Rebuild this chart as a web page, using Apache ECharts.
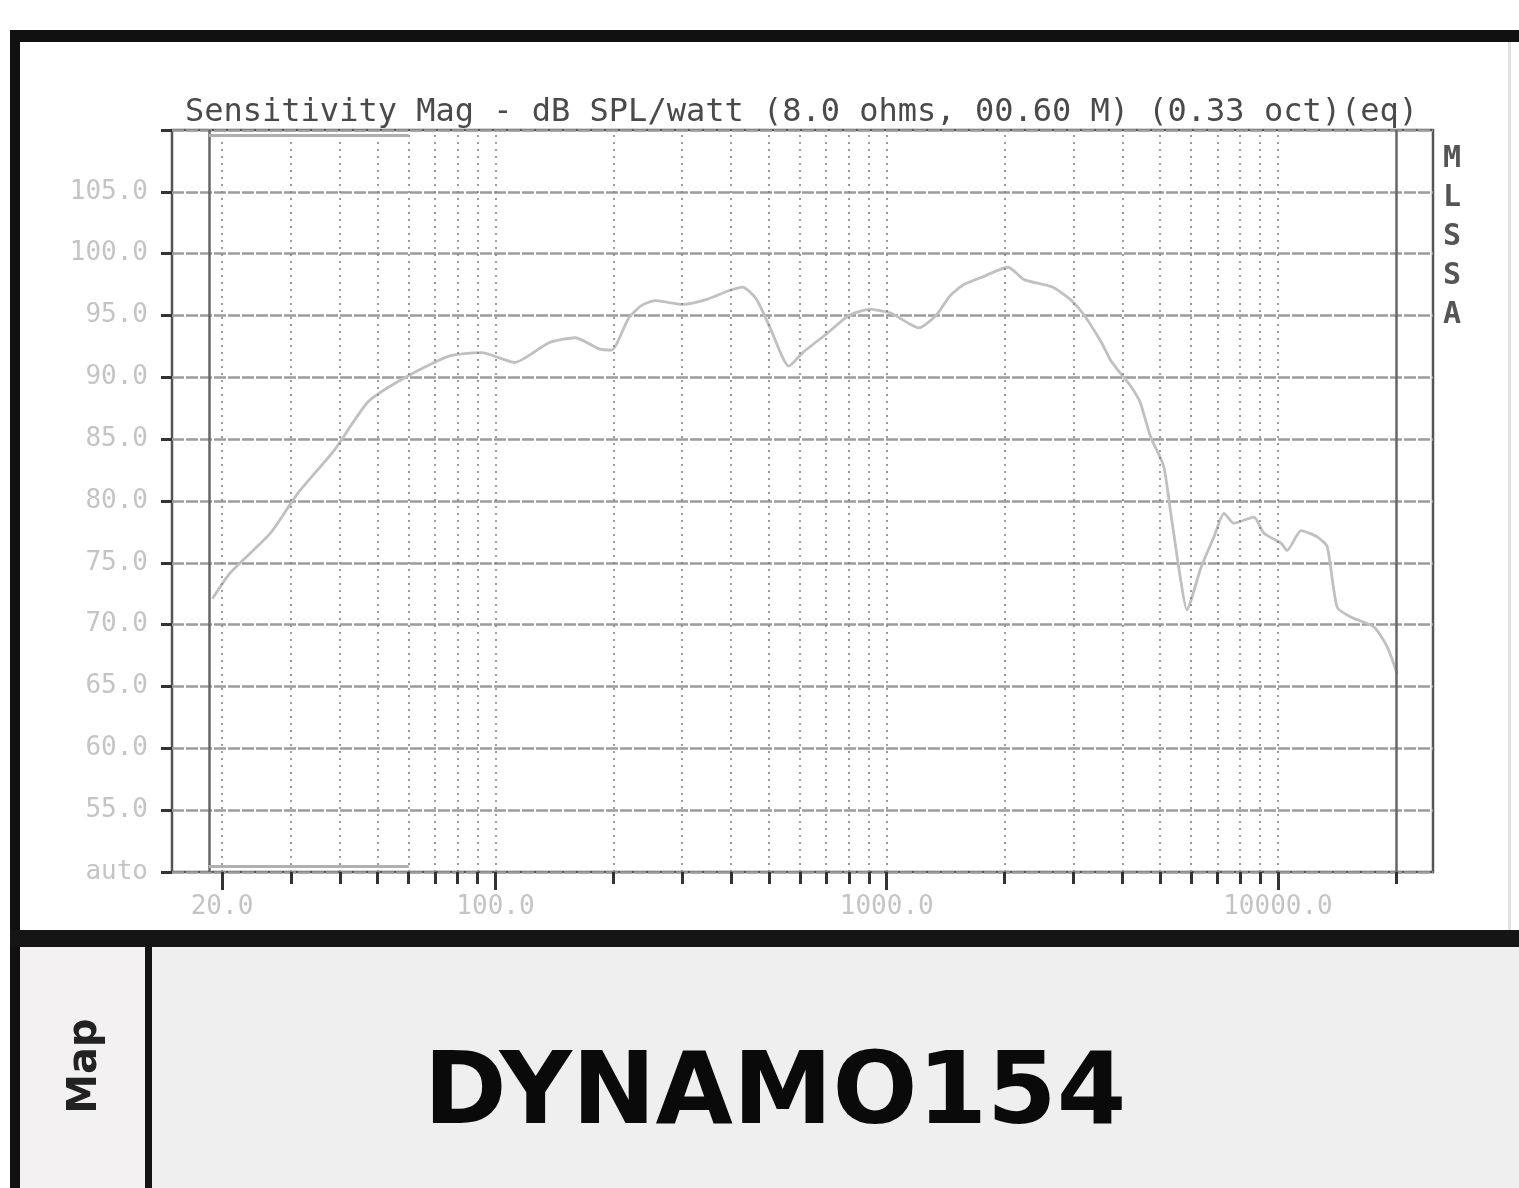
<!DOCTYPE html>
<html>
<head>
<meta charset="utf-8">
<title>Sensitivity Mag - DYNAMO154</title>
<script src="https://cdn.jsdelivr.net/npm/echarts@6.0.0/dist/echarts.min.js"></script>
<style>
  html, body { margin: 0; padding: 0; background: #fff; }
  #chart { width: 1519px; height: 1188px; }
</style>
</head>
<body>
<div id="chart"></div>
<script>
// frequency response (Hz / dB SPL per watt)
var freqHz = [18.9, 21, 26.6, 31.2, 38.7, 47.2, 57.4, 75.7, 92.1, 112, 137, 160, 184, 198, 219,
  236, 256, 302, 347, 394, 428, 465, 505, 562, 610, 707, 800, 904, 1023, 1132, 1208, 1336,
  1452, 1575, 1752, 2043, 2245, 2650, 2946, 3200, 3540, 3730, 3940, 4200, 4440, 4725, 5103,
  5321, 5641, 5847, 6353, 6861, 7278, 7716, 8676, 9205, 10180, 10548, 11460, 12600, 13360,
  14170, 15400, 17620, 19020, 20180];
var splDb = [72.1, 74.2, 77.4, 80.6, 84.1, 88.0, 89.8, 91.7, 92.0, 91.2, 92.8, 93.2, 92.3, 92.2, 94.8,
  95.8, 96.2, 95.9, 96.3, 97.0, 97.3, 96.3, 93.9, 90.9, 92.0, 93.6, 95.0, 95.5, 95.2, 94.4, 94.0, 95.0,
  96.6, 97.5, 98.1, 98.9, 97.9, 97.3, 96.3, 95.0, 92.8, 91.4, 90.4, 89.3, 88.0, 85.2, 82.8,
  79.0, 73.6, 71.2, 74.6, 77.1, 79.0, 78.2, 78.7, 77.4, 76.6, 76.0, 77.6, 77.1, 76.3,
  71.4, 70.6, 69.8, 68.2, 66.0];

// dotted frequency grid + axis ticks
var gridFreqs = [20, 30, 40, 50, 60, 70, 80, 90, 100, 200, 300, 400, 500, 600, 700, 800, 900,
  1000, 2000, 3000, 4000, 5000, 6000, 7000, 8000, 9000, 10000];
var edgeFreqs = [18.5, 20000];
var labelFreqs = [20, 100, 1000, 10000];
// short grey cursor bars at top and bottom left of the plot
var cursorFreqs = [18.5, 60];
var cursorDb = [109.6, 50.5];

var xMin = 14.9, xMax = 24900;
var yMin = 50, yMax = 110, yStep = 5;

var title = 'Sensitivity Mag - dB SPL/watt (8.0 ohms, 00.60 M) (0.33 oct)(eq)';
var mono = '"DejaVu Sans Mono", "Liberation Mono", monospace';

var chart = echarts.init(document.getElementById('chart'), null, { renderer: 'canvas' });

var points = freqHz.map(function (f, i) { return [f, splDb[i]]; });

var vLines = gridFreqs.map(function (f) {
  return { xAxis: f, lineStyle: { color: '#7c7c7c', width: 1.5, type: [2, 5] } };
}).concat(edgeFreqs.map(function (f) {
  return { xAxis: f, lineStyle: { color: '#666', width: 2.5, type: 'solid' } };
}));
cursorDb.forEach(function (db) {
  vLines.push([
    { coord: [cursorFreqs[0], db], lineStyle: { color: '#b0b0b0', width: 3, type: 'solid' } },
    { coord: [cursorFreqs[1], db] }
  ]);
});

var option = {
  backgroundColor: '#fff',
  animation: false,
  title: {
    text: title,
    left: 180,
    top: 92,
    textStyle: { fontFamily: mono, fontSize: 32, fontWeight: 'normal', color: '#4a4a4a' }
  },
  grid: {
    left: 172, top: 130, width: 1261, height: 742,
    show: true, borderColor: '#555', borderWidth: 2.5,
    containLabel: false, outerBoundsMode: 'none'
  },
  xAxis: [{
    type: 'log', logBase: 10, min: xMin, max: xMax,
    position: 'bottom',
    axisLine: { show: false },
    splitLine: { show: false },
    axisTick: { show: true, customValues: gridFreqs.concat([20000]), length: 12,
      lineStyle: { color: '#333', width: 3 } },
    axisLabel: { show: false }
  }, {
    type: 'log', logBase: 10, min: xMin, max: xMax,
    position: 'bottom',
    axisLine: { show: false },
    splitLine: { show: false },
    axisTick: { show: true, customValues: labelFreqs, length: 18,
      lineStyle: { color: '#333', width: 3 } },
    axisLabel: {
      show: true, customValues: labelFreqs, margin: 22,
      fontFamily: mono, fontSize: 26, color: '#c4c4c4',
      formatter: function (v) { return Number(v).toFixed(1); }
    }
  }],
  yAxis: {
    type: 'value', min: yMin, max: yMax, interval: yStep,
    axisLine: { show: false },
    axisTick: { show: true, length: 11, lineStyle: { color: '#333', width: 3 } },
    axisLabel: {
      margin: 24, fontFamily: mono, fontSize: 26, color: '#c4c4c4',
      formatter: function (v) {
        if (v === yMin) return 'auto';
        if (v === yMax) return '';
        return v.toFixed(1);
      }
    },
    splitLine: { show: true, lineStyle: { color: '#9c9c9c', width: 2.5, type: [12, 2] } }
  },
  series: [{
    type: 'line',
    xAxisIndex: 0,
    data: [],
    z: 1,
    markLine: {
      silent: true, symbol: ['none', 'none'], label: { show: false },
      data: vLines
    }
  }, {
    name: 'Sensitivity',
    type: 'line',
    xAxisIndex: 0,
    data: points,
    z: 3,
    smooth: 0.2,
    showSymbol: false,
    lineStyle: { color: '#c0c0c0', width: 2.8 }
  }],
  graphic: [
    // scanned frame around the plot
    { type: 'rect', shape: { x: 10, y: 30, width: 1509, height: 12 }, style: { fill: '#111' } },
    { type: 'rect', shape: { x: 10, y: 30, width: 10, height: 1158 }, style: { fill: '#111' } },
    { type: 'rect', shape: { x: 1508, y: 42, width: 3, height: 888 }, style: { fill: '#e2e2e2' } },
    { type: 'rect', shape: { x: 20, y: 947, width: 1499, height: 241 }, style: { fill: '#efefef' } },
    { type: 'rect', shape: { x: 20, y: 947, width: 125, height: 241 }, style: { fill: '#f4f1f3' } },
    { type: 'rect', shape: { x: 10, y: 930, width: 1509, height: 17 }, style: { fill: '#151515' } },
    { type: 'rect', shape: { x: 145, y: 947, width: 7, height: 241 }, style: { fill: '#151515' } },
    {
      type: 'text', x: 1452, y: 140,
      style: { text: 'M\nL\nS\nS\nA', font: 'bold 30px ' + mono, fill: '#555',
        align: 'center', lineHeight: 39 }
    },
    {
      type: 'text', x: 86, y: 1066, rotation: Math.PI / 2,
      style: { text: 'Map', font: 'bold 40px "DejaVu Sans", sans-serif', fill: '#222',
        align: 'center', verticalAlign: 'middle' }
    },
    {
      type: 'text', x: 775, y: 1097,
      style: { text: 'DYNAMO154', font: 'bold 100px "DejaVu Sans", sans-serif', fill: '#0a0a0a',
        align: 'center', verticalAlign: 'middle' }
    }
  ]
};

chart.setOption(option);
window.addEventListener('resize', chart.resize);
</script>
</body>
</html>
